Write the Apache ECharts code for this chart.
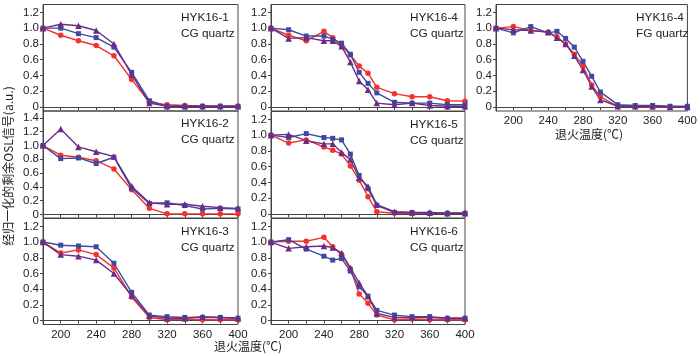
<!DOCTYPE html>
<html><head><meta charset="utf-8">
<script src="https://cdn.jsdelivr.net/npm/echarts@6/dist/echarts.min.js"></script>
<style>html,body{margin:0;padding:0;background:#fff}#c{width:700px;height:356px}</style>
</head><body><div id="c"></div>
<script>
// ---- data ----
const xCoarse = [180,200,220,240,260,280,300,320,340,360,380,400];
const xFine = [180,200,220,240,250,260,270,280,290,300,320,340,360,380,400];
const xTickLabels = [200,240,280,320,360,400];
const yTickLabels = [0,0.2,0.4,0.6,0.8,1.0,1.2];
const yTickLabels2 = [0,0.2,0.4,0.6,0.8,1.0,1.2,1.4];

const sampleNames = ['HYK16-1','HYK16-2','HYK16-3','HYK16-4','HYK16-5','HYK16-6','HYK16-4'];
const grainNames = ['CG quartz','CG quartz','CG quartz','CG quartz','CG quartz','CG quartz','FG quartz'];

const p1Red    = [1.00,0.91,0.84,0.78,0.65,0.35,0.06,0.03,0.02,0.01,0.01,0.01];
const p1Blue   = [1.00,1.00,0.93,0.88,0.76,0.44,0.08,0.01,0.01,0.01,0.01,0.01];
const p1Purple = [1.00,1.05,1.03,0.97,0.80,0.41,0.05,0.01,0.01,0.01,0.01,0.01];

const p2Red    = [1.00,0.86,0.83,0.78,0.66,0.36,0.09,0.01,0.01,0.01,0.01,0.01];
const p2Blue   = [1.00,0.81,0.82,0.74,0.83,0.38,0.16,0.17,0.13,0.08,0.09,0.08];
const p2Purple = [1.00,1.24,0.98,0.91,0.84,0.41,0.17,0.15,0.15,0.12,0.10,0.09];

const p3Red    = [1.00,0.86,0.90,0.84,0.67,0.30,0.04,0.01,0.02,0.01,0.01,0.01];
const p3Blue   = [1.00,0.96,0.95,0.94,0.73,0.36,0.07,0.05,0.04,0.04,0.04,0.03];
const p3Purple = [1.00,0.84,0.82,0.77,0.60,0.32,0.06,0.03,0.03,0.05,0.04,0.03];

const p4Red    = [1.00,0.91,0.84,0.96,0.88,0.78,0.66,0.52,0.43,0.25,0.17,0.13,0.13,0.08,0.075];
const p4Blue   = [1.00,0.98,0.90,0.90,0.86,0.81,0.67,0.44,0.30,0.18,0.06,0.05,0.05,0.03,0.03];
const p4Purple = [1.00,0.87,0.88,0.84,0.84,0.77,0.57,0.33,0.22,0.05,0.03,0.05,0.02,0.01,0.01];

const p5Red    = [1.00,0.90,0.94,0.85,0.81,0.76,0.61,0.43,0.22,0.03,0.01,0.01,0.01,0.01,0.01];
const p5Blue   = [1.00,0.97,1.02,0.97,0.96,0.94,0.76,0.49,0.32,0.11,0.02,0.02,0.01,0.01,0.01];
const p5Purple = [1.00,1.01,0.93,0.89,0.89,0.78,0.69,0.46,0.35,0.12,0.03,0.02,0.02,0.01,0.01];

const p6Red    = [1.00,1.01,1.01,1.06,0.94,0.84,0.66,0.34,0.22,0.07,0.01,0.02,0.01,0.01,0.01];
const p6Blue   = [1.00,1.03,0.91,0.82,0.77,0.79,0.63,0.43,0.31,0.13,0.07,0.05,0.05,0.03,0.03];
const p6Purple = [1.00,0.92,0.94,0.95,0.93,0.86,0.67,0.48,0.31,0.09,0.04,0.04,0.04,0.03,0.03];

const p7Red    = [1.00,1.02,0.97,0.95,0.89,0.80,0.67,0.52,0.28,0.13,0.01,0.01,0.00,0.00,0.00];
const p7Blue   = [1.00,0.94,1.02,0.94,0.96,0.87,0.76,0.58,0.39,0.19,0.03,0.02,0.02,0.01,0.01];
const p7Purple = [1.00,0.98,0.97,0.95,0.88,0.80,0.65,0.47,0.26,0.09,0.01,0.01,0.01,0.00,0.00];

const yTitle = '经归一化的剩余OSL信号(a.u.)';
const xTitle = '退火温度(℃)';

// ---- layout/style ----
const panels = [
  {x:xCoarse, r:p1Red, b:p1Blue, p:p1Purple, g:{left:43,top:4.5,width:195,height:106.5}, ymax:1.3, yt:yTickLabels, xl:false},
  {x:xCoarse, r:p2Red, b:p2Blue, p:p2Purple, g:{left:43,top:111,width:195,height:107}, ymax:1.5, yt:yTickLabels2, xl:false},
  {x:xCoarse, r:p3Red, b:p3Blue, p:p3Purple, g:{left:43,top:218.5,width:195,height:106}, ymax:1.3, yt:yTickLabels, xl:true},
  {x:xFine, r:p4Red, b:p4Blue, p:p4Purple, g:{left:271,top:4.5,width:194,height:106.5}, ymax:1.3, yt:yTickLabels, xl:false},
  {x:xFine, r:p5Red, b:p5Blue, p:p5Purple, g:{left:271,top:111.5,width:194,height:106.5}, ymax:1.3, yt:yTickLabels, xl:false},
  {x:xFine, r:p6Red, b:p6Blue, p:p6Purple, g:{left:271,top:218.5,width:194,height:106}, ymax:1.3, yt:yTickLabels, xl:true},
  {x:xFine, r:p7Red, b:p7Blue, p:p7Purple, g:{left:496,top:4.5,width:194,height:106.5}, ymax:1.3, yt:yTickLabels, xl:true}
];
const RED='#f2322b', BLUE='#3d4a9e', PURPLE='#6b2b86';
const labelFont = {fontFamily:'Liberation Sans, Arial', fontSize:11.5, color:'#222'};

const grid=[], xAxis=[], yAxis=[], series=[], graphic=[];
panels.forEach((P,i)=>{
  grid.push(Object.assign({show:true,borderColor:'#444',borderWidth:1,backgroundColor:'transparent'},P.g));
  xAxis.push({type:'value',gridIndex:i,min:180,max:400,interval:20,
    axisLine:{show:true,lineStyle:{color:'#444',width:1}},
    axisTick:{show:true,inside:false,length:3,lineStyle:{color:'#444'}},
    splitLine:{show:false},
    axisLabel:{show:P.xl,margin:4,...labelFont,
      formatter:v=>xTickLabels.indexOf(v)>=0?String(v):''}});
  yAxis.push({type:'value',gridIndex:i,min:-0.05,max:P.ymax,
    axisLine:{show:true,lineStyle:{color:'#444',width:1}},
    axisTick:{show:true,inside:false,length:3,lineStyle:{color:'#444'},customValues:P.yt},
    splitLine:{show:false},
    axisLabel:{show:true,margin:4,...labelFont,customValues:P.yt,
      formatter:v=>Math.abs(v)<1e-9?'0':v.toFixed(1)}});
  const mk=(vals,color,sym,size)=>({type:'line',xAxisIndex:i,yAxisIndex:i,
    data:P.x.map((xx,k)=>[xx,vals[k]]),symbol:sym,symbolSize:size,showSymbol:true,
    lineStyle:{color:color,width:1.4},itemStyle:{color:color},z:3,animation:false});
  series.push(mk(P.r,RED,'circle',5.5));
  series.push(mk(P.b,BLUE,'rect',5));
  series.push(mk(P.p,PURPLE,'triangle',6.5));
  const tx = P.g.left + (i>=6?140:(i>=3?139:138));
  const ty = P.g.top + 5;
  graphic.push({type:'text',left:tx,top:ty,style:{text:sampleNames[i]+'\n'+grainNames[i],
    font:'11.8px "Liberation Sans", Arial',fill:'#222',lineHeight:16}});
});
graphic.push({type:'text',rotation:Math.PI/2,x:2,y:166,
  style:{text:yTitle,font:'12px "Noto Sans CJK SC"',fill:'#222',align:'center',verticalAlign:'top'}});
graphic.push({type:'text',x:248,y:340,
  style:{text:xTitle,font:'12px "Noto Sans CJK SC"',fill:'#222',align:'center',verticalAlign:'top'}});
graphic.push({type:'text',x:589,y:128,
  style:{text:xTitle,font:'12px "Noto Sans CJK SC"',fill:'#222',align:'center',verticalAlign:'top'}});

const chart = echarts.init(document.getElementById('c'),null,{renderer:'canvas'});
chart.setOption({animation:false,backgroundColor:'#fff',grid,xAxis,yAxis,series,graphic});
</script></body></html>
